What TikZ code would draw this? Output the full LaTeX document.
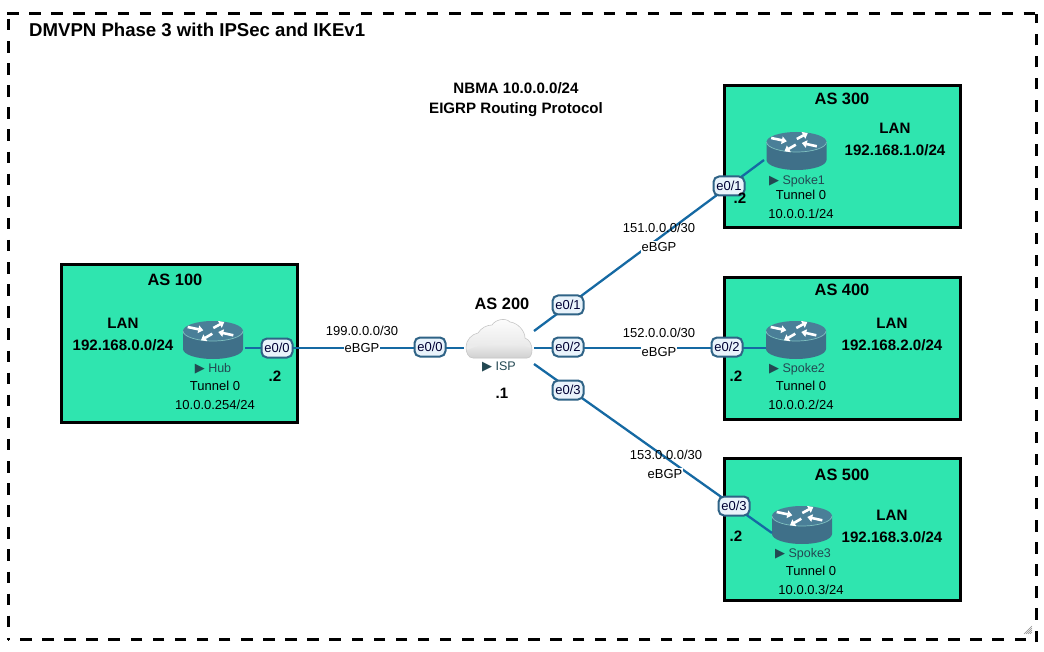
\documentclass[tikz,border=0pt]{standalone}
\usepackage{fontspec}
\setmainfont{Liberation Sans}
\newfontfamily\symfont{DejaVu Sans}
\usetikzlibrary{arrows.meta}
\definecolor{asgreen}{HTML}{2FE5AF}
\definecolor{linkblue}{HTML}{1569A3}
\definecolor{rtop}{HTML}{4A7F98}
\definecolor{rside}{HTML}{3F7089}
\definecolor{rrim}{HTML}{7FC0C0}
\definecolor{ifborder}{HTML}{2F6386}
\definecolor{iffill}{HTML}{E9F3FB}
\definecolor{namecol}{HTML}{234852}
\newcommand{\fsz}[1]{\fontsize{#1}{#1}\selectfont}
\newcommand{\rtri}{{\symfont\fsz{13}▶}}
\newcommand{\routerat}[3]{%
  \node[routerbase] (#3) at (#1,#2) {};
  \begin{scope}[shift={(#1,#2)}]
    \fill[rside] (-30,-9) -- (-30,9) arc[start angle=180,end angle=0,x radius=30,y radius=10] -- (30,-9) -- cycle;
    \fill[rtop] (0,-9) ellipse[x radius=30,y radius=10];
    \draw[rrim,line width=.7pt] (-30,-9) arc[start angle=180,end angle=0,x radius=30,y radius=10];
    \draw[rarrow] (-25.3,-13) -- (-9.7,-9.7);
    \draw[rarrow] (0.3,-12) -- (11.3,-18);
    \draw[rarrow] (20.3,-4.7) -- (5.3,-8);
    \draw[rarrow] (-0.7,-6.3) -- (-12,0.3);
  \end{scope}}
\tikzset{
  x=1pt,y=-1pt,
  routerbase/.style={inner sep=0pt,minimum width=60pt,minimum height=38pt},
  rarrow/.style={white,line width=2.6pt,-{Triangle[length=5pt,width=7.5pt]}},
  asbox/.style={draw=black,fill=asgreen,line width=2.8pt,inner sep=0pt},
  link/.style={draw=linkblue,line width=2.3pt},
  iface/.style={draw=ifborder,fill=iffill,line width=2pt,rounded corners=5.5pt,inner sep=0pt,minimum width=31pt,minimum height=19pt,font=\fsz{13},text=black!80!blue},
  txt/.style={inner sep=0pt,font=\fsz{13},text=black},
  txb/.style={inner sep=0pt,font=\fsz{15.1}\bfseries,text=black},
  ast/.style={inner sep=0pt,font=\fsz{16.4}\bfseries,text=black},
  wlab/.style={inner sep=1pt,fill=white,font=\fsz{13},text=black},
  rname/.style={inner sep=0pt,font=\fsz{12.5},text=namecol},
  framedash/.style={black,line width=3pt,dash pattern=on 11.5pt off 10.6pt},
}
\begin{document}
\begin{tikzpicture}
\useasboundingbox (0,0) rectangle (1044,652);
\fill[white] (0,0) rectangle (1044,652);
\draw[framedash] (7,14) -- (1036,14);
\draw[framedash] (8,19) -- (8,640);
\draw[framedash] (1026,639) -- (8,639);
\draw[framedash] (1036,642) -- (1036,14);
\node[inner sep=0pt,anchor=west,font=\fsz{18.6}\bfseries] (title) at (29,30) {DMVPN Phase 3 with IPSec and IKEv1};
\node[txb] (nbma) at (516,88) {NBMA 10.0.0.0/24};
\node[txb] (eigrp) at (516,110) {EIGRP Routing Protocol};
% AS boxes
\node[asbox,minimum width=236pt,minimum height=158pt] (as100) at (179.5,343.5) {};
\node[asbox,minimum width=236pt,minimum height=142pt] (as300) at (842.5,156.5) {};
\node[asbox,minimum width=236pt,minimum height=142pt] (as400) at (842.5,348.5) {};
\node[asbox,minimum width=236pt,minimum height=142pt] (as500) at (842.5,529.5) {};
% routers
\routerat{213}{340}{hub}
\routerat{796.5}{151}{spokea}
\routerat{796}{340}{spokeb}
\routerat{802}{525}{spokec}
% cloud
\node[inner sep=0pt,minimum width=66pt,minimum height=40pt] (isp) at (499,339) {};
\begin{scope}
  \path[clip] (473,358) .. controls (468,358) and (466,352) .. (466,347)
    .. controls (466,340) and (472,334) .. (478,333)
    .. controls (481,328) and (487,325) .. (492,325)
    .. controls (495,320) and (505,317) .. (510,322)
    .. controls (518,323) and (525,331) .. (525,338)
    .. controls (530,340) and (532,345) .. (532,350)
    .. controls (532,355) and (530,358) .. (527,358) -- cycle;
  \shade[top color=white,bottom color=black!8] (460,315) rectangle (540,345);
  \fill[black!8] (460,345) rectangle (540,360);
  \shade[top color=black!3,bottom color=black!20] (462,352) .. controls (485,342) and (510,338) .. (535,350) -- (535,360) -- (462,360) -- cycle;
\end{scope}
\draw[black!22,line width=.6pt] (473,358) .. controls (468,358) and (466,352) .. (466,347)
    .. controls (466,340) and (472,334) .. (478,333)
    .. controls (481,328) and (487,325) .. (492,325)
    .. controls (495,320) and (505,317) .. (510,322)
    .. controls (518,323) and (525,331) .. (525,338)
    .. controls (530,340) and (532,345) .. (532,350)
    .. controls (532,355) and (530,358) .. (527,358) -- cycle;
% connection anchors
\coordinate (hubport) at (245,348);
\coordinate (ispw) at (464,348);
\coordinate (ispa) at (534,331);
\coordinate (ispb) at (534,348);
\coordinate (ispc) at (534,364);
\coordinate (spa) at (764,160);
\coordinate (spb) at (766,348);
\coordinate (spc) at (772,533);
\draw[link] (hubport) -- (ispw);
\draw[link] (ispa) -- (spa);
\draw[link] (ispb) -- (spb);
\draw[link] (ispc) -- (spc);
% interfaces
\node[iface] (i1) at (277,348) {e0/0};
\node[iface] (i2) at (430,347) {e0/0};
\node[iface] (i3) at (568,305) {e0/1};
\node[iface] (i4) at (568,347) {e0/2};
\node[iface] (i5) at (568,390) {e0/3};
\node[iface] (i6) at (729,186) {e0/1};
\node[iface] (i7) at (727,347) {e0/2};
\node[iface] (i8) at (734,506) {e0/3};
% link labels
\node[txt] (l1) at (362,331) {199.0.0.0/30};
\node[wlab] (l1b) at (362,348) {eBGP};
\node[txt] (l2) at (659,228) {151.0.0.0/30};
\node[wlab] (l2b) at (659,247) {eBGP};
\node[txt] (l3) at (659,333) {152.0.0.0/30};
\node[wlab] (l3b) at (659,352) {eBGP};
\node[txt] (l4) at (666,455) {153.0.0.0/30};
\node[wlab] (l4b) at (665,474) {eBGP};
% AS 100
\node[ast] (t100) at (175,280) {AS 100};
\node[txb] (lan0) at (123,323) {LAN};
\node[txb] (net0) at (123,345) {192.168.0.0/24};
\node[rname] (nhub) at (213,369) {\rtri{} Hub};
\node[txt] (th) at (215,386) {Tunnel 0};
\node[txt] (ih) at (215,405) {10.0.0.254/24};
\node[txb] (dh) at (275,376) {.2};
% ISP
\node[ast] (t200) at (502,304) {AS 200};
\node[rname] (nisp) at (499,367) {\rtri{} ISP};
\node[txb] (disp) at (502,393) {.1};
% AS 300
\node[ast] (t300) at (842,99) {AS 300};
\node[txb] (lan1) at (895,128) {LAN};
\node[txb] (net1) at (895,150) {192.168.1.0/24};
\node[rname] (ns1) at (797,181) {\rtri{} Spoke1};
\node[txt] (t1) at (801,195) {Tunnel 0};
\node[txt] (i1a) at (801,214) {10.0.0.1/24};
\node[txb] (d1) at (740,198) {.2};
% AS 400
\node[ast] (t400) at (842,290) {AS 400};
\node[txb] (lan2) at (892,323) {LAN};
\node[txb] (net2) at (892,345) {192.168.2.0/24};
\node[rname] (ns2) at (797,369) {\rtri{} Spoke2};
\node[txt] (t2) at (801,386) {Tunnel 0};
\node[txt] (i2a) at (801,405) {10.0.0.2/24};
\node[txb] (d2) at (736,376) {.2};
% AS 500
\node[ast] (t500) at (842,475) {AS 500};
\node[txb] (lan3) at (892,515) {LAN};
\node[txb] (net3) at (892,537) {192.168.3.0/24};
\node[rname] (ns3) at (803,554) {\rtri{} Spoke3};
\node[txt] (t3) at (811,571) {Tunnel 0};
\node[txt] (i3a) at (811,590) {10.0.0.3/24};
\node[txb] (d3) at (736,536) {.2};
% resize grip
\draw[black!45,line width=.6pt] (1024,634) -- (1032,626) (1026,634) -- (1032,628) (1028,634) -- (1032,630) (1030,634) -- (1032,632);
\end{tikzpicture}
\end{document}
